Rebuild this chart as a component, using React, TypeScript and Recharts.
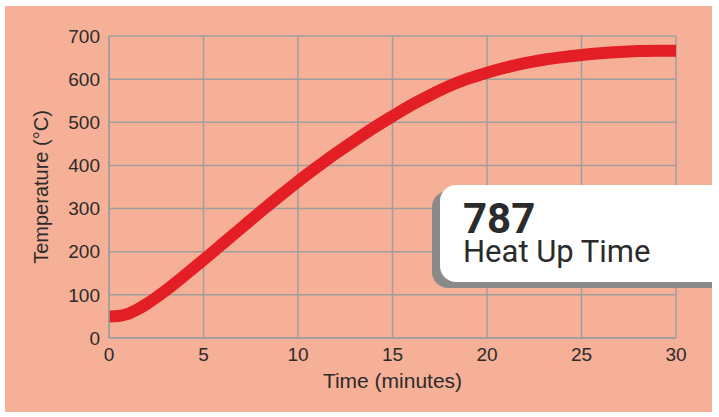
import React from "react";
import { CartesianGrid, Line, LineChart, XAxis, YAxis, Label } from "recharts";

// heat-up curve (minutes -> °C)
const minutes = [0, 0.5, 1, 1.5, 2, 3, 4, 5, 6, 7, 8, 9, 10, 11, 12, 13, 14, 15, 16, 17, 18, 19, 20, 21, 22, 23, 24, 25, 26, 27, 28, 29, 30];
const temperature = [50, 51, 56, 66, 79, 110, 145, 181, 218, 255, 292, 328, 363, 396, 428, 458, 487, 514, 540, 563, 584, 601, 615, 627, 637, 645, 651, 656, 660, 663, 665, 666, 666];

const xTicks = [0, 5, 10, 15, 20, 25, 30];
const yTicks = [0, 100, 200, 300, 400, 500, 600, 700];

const calloutValue = "787";
const calloutLabel = "Heat Up Time";

const data = minutes.map((t, i) => ({ t, temp: temperature[i] }));

const GRID = "#9e9e9e";
const INK = "#2b2b2b";
const AXIS_FONT = "'Liberation Sans', Arial, sans-serif";
const BOX_FONT = "Roboto, 'Liberation Sans', sans-serif";

export default function App(): React.JSX.Element {
	return (
		<div
			style={{
				position: "fixed",
				left: 0,
				top: 0,
				width: 719,
				height: 417,
				background: "#fff",
			}}
		>
			<div
				style={{
					position: "absolute",
					left: 5,
					top: 6,
					width: 707,
					height: 406,
					background: "#F6B097",
				}}
			/>
			<div style={{ position: "absolute", left: 0, top: 0 }}>
				<LineChart
					width={719}
					height={417}
					data={data}
					margin={{ top: 36, right: 43, left: 49, bottom: 29 }}
				>
					<CartesianGrid stroke={GRID} strokeWidth={1.5} />
					<XAxis
						dataKey="t"
						type="number"
						domain={[0, 30]}
						ticks={xTicks}
						height={50}
						axisLine={{ stroke: GRID, strokeWidth: 1.5 }}
						tickLine={false}
						tickSize={0}
						tickMargin={10}
						tick={{ fill: INK, fontSize: 19, fontFamily: AXIS_FONT }}
					>
						<Label
							value="Time (minutes)"
							position="insideBottom"
							offset={0}
							style={{ fill: INK, fontSize: 21, fontFamily: AXIS_FONT }}
						/>
					</XAxis>
					<YAxis
						type="number"
						domain={[0, 700]}
						ticks={yTicks}
						width={60}
						axisLine={{ stroke: GRID, strokeWidth: 1.5 }}
						tickLine={false}
						tickSize={0}
						tickMargin={9}
						tick={{ fill: INK, fontSize: 19, fontFamily: AXIS_FONT }}
					>
						<Label
							value="Temperature (°C)"
							angle={-90}
							position="insideLeft"
							offset={-8}
							style={{ fill: INK, fontSize: 20, fontFamily: AXIS_FONT, textAnchor: "middle" }}
						/>
					</YAxis>
					<Line
						type="monotone"
						dataKey="temp"
						stroke="#E31E25"
						strokeWidth={12}
						dot={false}
						activeDot={false}
						isAnimationActive={false}
					/>
				</LineChart>
			</div>
			<div
				style={{
					position: "absolute",
					left: 5,
					top: 6,
					width: 707,
					height: 406,
					overflow: "hidden",
					pointerEvents: "none",
					fontFamily: BOX_FONT,
				}}
			>
				<div
					style={{
						position: "absolute",
						left: 435,
						top: 179,
						width: 320,
						height: 97,
						background: "#fff",
						borderRadius: 16,
						boxShadow: "-8px 6px 0 #8a8a8a",
					}}
				>
					<div
						style={{
							position: "absolute",
							left: 23,
							top: 17,
							fontSize: 42,
							fontWeight: 700,
							lineHeight: "34px",
							color: INK,
						}}
					>
						{calloutValue}
					</div>
					<div
						style={{
							position: "absolute",
							left: 23,
							top: 53,
							fontSize: 31,
							fontWeight: 400,
							lineHeight: "28px",
							color: INK,
						}}
					>
						{calloutLabel}
					</div>
				</div>
			</div>
		</div>
	);
}
